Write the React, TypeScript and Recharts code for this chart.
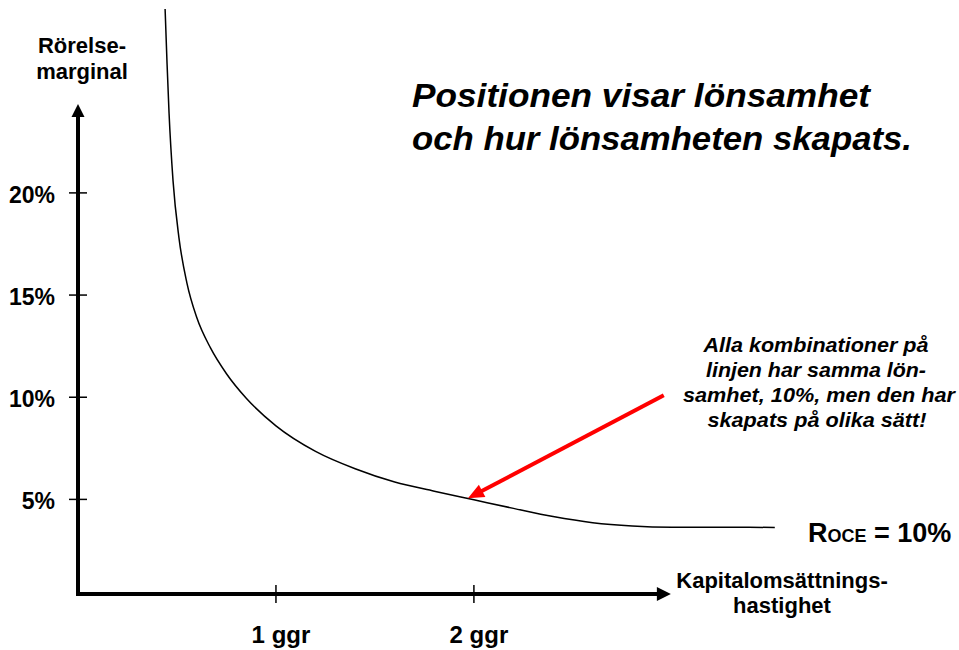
import { LineChart, Line, XAxis, YAxis, ReferenceLine, Customized } from 'recharts';

// kapitalomsättningshastighet (ggr) and rörelsemarginal (%) along the ROCE = 10% curve
const turnover = [0.44, 0.45, 0.46, 0.48, 0.51, 0.55, 0.6, 0.67, 0.75, 0.85, 1.0, 1.2, 1.4, 1.6, 1.8, 2.0, 2.2, 2.4, 2.6, 2.8, 3.0, 3.52];
const margin = [29, 26.3, 23.9, 20.6, 17.8, 15.6, 13.9, 12.4, 11.15, 9.95, 8.6, 7.35, 6.5, 5.85, 5.4, 4.98, 4.56, 4.16, 3.86, 3.7, 3.64, 3.63];

const yTicks = [5, 10, 15, 20];
const xTicks = [1, 2];
const xTickLabels: Record<number, string> = { 1: '1 ggr', 2: '2 ggr' };

const X_DOMAIN: [number, number] = [0, 4.4];
const Y_DOMAIN: [number, number] = [0.37, 29];

// pointer from the note to a point on the curve
const pointerFrom = { x: 2.95, y: 10.05 };
const pointerTo = { x: 1.97, y: 5.05 };

const FONT = '"Liberation Sans", Arial, sans-serif';

const data = turnover.map((t, i) => ({ turnover: t, margin: margin[i] }));

const arrowShape = (color: string, width: number, head: number, half: number) => (props: any) => {
    const { x1, y1, x2, y2 } = props;
    const dx = x2 - x1;
    const dy = y2 - y1;
    const len = Math.hypot(dx, dy) || 1;
    const ux = dx / len;
    const uy = dy / len;
    const bx = x2 - ux * head;
    const by = y2 - uy * head;
    const px = -uy * half;
    const py = ux * half;
    return (
        <g>
            <line x1={x1} y1={y1} x2={bx} y2={by} stroke={color} strokeWidth={width} strokeLinecap="square" />
            <polygon points={`${x2},${y2} ${bx + px},${by + py} ${bx - px},${by - py}`} fill={color} />
        </g>
    );
};

const YTick = (props: any) => {
    const { x, y, payload } = props;
    return (
        <g>
            <line x1={x - 9} y1={y} x2={x + 9} y2={y} stroke="#000" strokeWidth={1.5} />
            <text x={x - 23} y={y + 10} textAnchor="end" fontFamily={FONT} fontWeight="bold" fontSize={23} fill="#000">
                {`${payload.value}%`}
            </text>
        </g>
    );
};

const XTick = (props: any) => {
    const { x, y, payload } = props;
    return (
        <g>
            <line x1={x} y1={y - 9} x2={x} y2={y + 9} stroke="#000" strokeWidth={1.5} />
            <text x={x + 5} y={y + 49} textAnchor="middle" fontFamily={FONT} fontWeight="bold" fontSize={24} fill="#000">
                {xTickLabels[payload.value]}
            </text>
        </g>
    );
};

const Texts = () => (
    <g fontFamily={FONT} fill="#000">
        <text x={82} y={53} textAnchor="middle" fontWeight="bold" fontSize={22}>Rörelse-</text>
        <text x={82} y={79} textAnchor="middle" fontWeight="bold" fontSize={22}>marginal</text>

        <text x={782} y={588} textAnchor="middle" fontWeight="bold" fontSize={22}>Kapitalomsättnings-</text>
        <text x={782} y={613} textAnchor="middle" fontWeight="bold" fontSize={22}>hastighet</text>

        <g fontWeight="bold" fontStyle="italic" fontSize={33}>
            <text x={412} y={107} textLength={458} lengthAdjust="spacingAndGlyphs">Positionen visar lönsamhet</text>
            <text x={412} y={150} textLength={500} lengthAdjust="spacingAndGlyphs">och hur lönsamheten skapats.</text>
        </g>

        <g fontWeight="bold" fontStyle="italic" fontSize={20} textAnchor="middle">
            <text x={816} y={352} textLength={225} lengthAdjust="spacingAndGlyphs">Alla kombinationer på</text>
            <text x={816} y={377} textLength={220} lengthAdjust="spacingAndGlyphs">linjen har samma lön-</text>
            <text x={819} y={402} textLength={272} lengthAdjust="spacingAndGlyphs">samhet, 10%, men den har</text>
            <text x={817} y={427} textLength={219} lengthAdjust="spacingAndGlyphs">skapats på olika sätt!</text>
        </g>

        <text x={808} y={542} fontWeight="bold" fontSize={27}>
            R<tspan fontSize={18}>OCE</tspan> = 10%
        </text>
    </g>
);

export default function App() {
    return (
        <div style={{ position: 'absolute', left: 0, top: 0, width: 959, height: 650, background: '#fff' }}>
            <LineChart width={959} height={650} data={data} margin={{ top: 9, right: 10, bottom: 0, left: 8 }}>
                <XAxis
                    dataKey="turnover"
                    type="number"
                    domain={X_DOMAIN}
                    allowDataOverflow
                    ticks={xTicks}
                    height={56}
                    axisLine={false}
                    tickLine={false}
                    tickSize={0}
                    tickMargin={0}
                    tick={<XTick />}
                />
                <YAxis
                    type="number"
                    domain={Y_DOMAIN}
                    allowDataOverflow
                    ticks={yTicks}
                    width={70}
                    axisLine={false}
                    tickLine={false}
                    tickSize={0}
                    tickMargin={0}
                    tick={<YTick />}
                />
                <ReferenceLine
                    segment={[{ x: 0, y: Y_DOMAIN[0] }, { x: 0, y: 24.35 }]}
                    shape={arrowShape('#000', 4, 13, 6.5)}
                />
                <ReferenceLine
                    segment={[{ x: 0, y: Y_DOMAIN[0] }, { x: 2.995, y: Y_DOMAIN[0] }]}
                    shape={arrowShape('#000', 4, 14, 7)}
                />
                <Line
                    type="monotone"
                    dataKey="margin"
                    stroke="#000"
                    strokeWidth={1.5}
                    dot={false}
                    activeDot={false}
                    isAnimationActive={false}
                />
                <ReferenceLine
                    segment={[pointerFrom, pointerTo]}
                    shape={arrowShape('#ff0000', 4, 16, 7)}
                />
                <Customized component={Texts} />
            </LineChart>
        </div>
    );
}
